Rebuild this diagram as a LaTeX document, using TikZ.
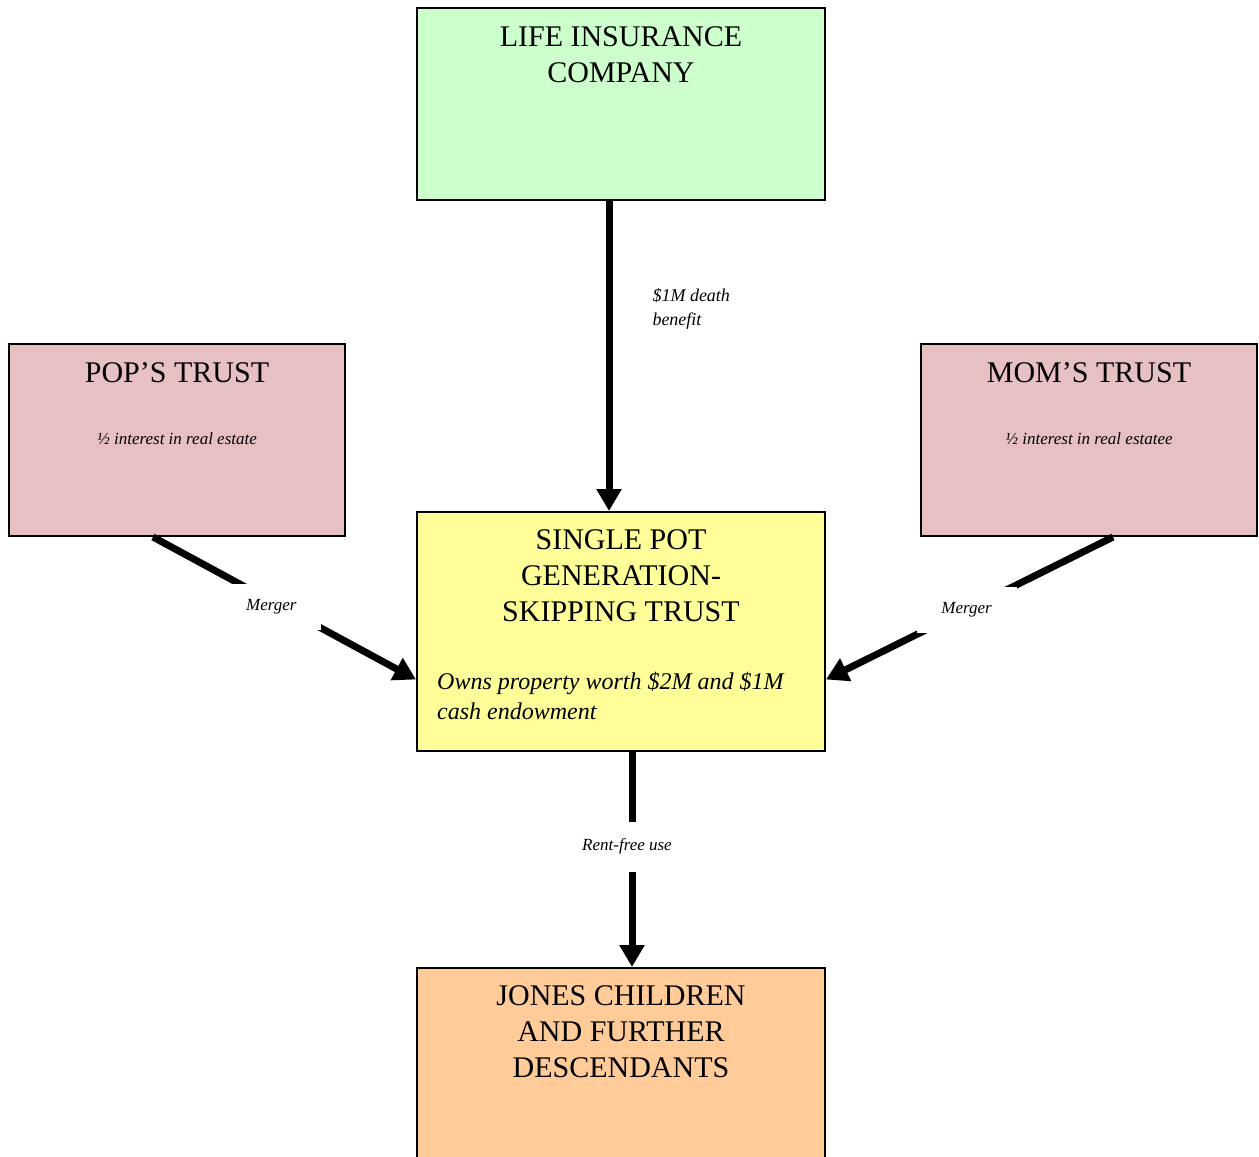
\documentclass[tikz,border=0pt]{standalone}
\usepackage{fontspec}
\setmainfont{Liberation Serif}
\usepackage{tikz}
\usetikzlibrary{arrows.meta}
\usetikzlibrary{positioning}
\definecolor{lifegreen}{HTML}{CCFFCC}
\definecolor{trustpink}{RGB}{231,192,196}
\definecolor{potyellow}{HTML}{FFFF99}
\definecolor{heirorange}{HTML}{FFCC99}
\tikzset{
  box/.style={draw, line width=2pt, rectangle, inner sep=0pt},
  title/.style={font=\fontsize{30}{36}\selectfont, align=center, inner sep=0pt},
  note/.style={font=\fontsize{17}{24}\selectfont\itshape, inner sep=0pt},
  flow/.style={line width=7pt},
  gap/.style={fill=white, font=\fontsize{17}{20}\selectfont\itshape, inner sep=0pt}
}

\begin{document}
\begin{tikzpicture}[x=1pt, y=-1pt,
      ->, >={Triangle[length=22pt,width=24pt]}]

    \useasboundingbox (0,0) rectangle (1259,1157);

    % boxes
    \node[box, fill=lifegreen, minimum width=408pt, minimum height=192pt]
      (life) at (621,104) {};
    \node[box, fill=trustpink, minimum width=336pt, minimum height=192pt]
      (pop) at (177,440) {};
    \node[box, fill=trustpink, minimum width=336pt, minimum height=192pt]
      (mom) at (1089,440) {};
    \node[box, fill=potyellow, minimum width=408pt, minimum height=239pt]
      (single) at (621,631.5) {};
    \node[box, fill=heirorange, minimum width=408pt, minimum height=240pt]
      (jones) at (621,1088) {};

    % texts
    \node[title] (lifetitle) [below=19pt of life.north]
      {LIFE INSURANCE\\COMPANY};
    \node[title] (poptitle) [below=19pt of pop.north] {POP’S TRUST};
    \node[title] (momtitle) [below=19pt of mom.north] {MOM’S TRUST};
    \node[note] (popnote) [below=89pt of pop.north]
      {½ interest in real estate};
    \node[note] (momnote) [below=89pt of mom.north]
      {½ interest in real estatee};
    \node[title] (singletitle) [below=18pt of single.north]
      {SINGLE POT\\GENERATION-\\SKIPPING TRUST};
    \node[note, font=\fontsize{24}{30}\selectfont\itshape, align=left, anchor=north west]
      (singlenote) at ([xshift=21pt, yshift=-161pt]single.north west)
      {Owns property worth \$2M and \$1M\\cash endowment};
    \node[title] (jonestitle) [below=18pt of jones.north]
      {JONES CHILDREN\\AND FURTHER\\DESCENDANTS};

    % connectors
    \draw[flow] ([xshift=-12pt]life.south) --
      node[note, pos=0.27, anchor=north west, align=left, xshift=40pt, font=\fontsize{18}{24}\selectfont\itshape]
        (benefit) {\$1M death\\benefit}
      ([xshift=-12pt]single.north);
    \draw[flow] ([xshift=-24pt]pop.south) --
      node[gap, pos=0.45, yshift=-6pt, minimum width=100pt, minimum height=46pt] (mergepop) {Merger}
      ([yshift=-48pt]single.west);
    \draw[flow] ([xshift=24pt]mom.south) --
      node[gap, pos=0.51, minimum width=100pt, minimum height=46pt] (mergemom) {Merger}
      ([yshift=-48pt]single.east);
    \draw[flow] ([xshift=11pt]single.south) --
      node[gap, pos=0.44, xshift=-5pt, minimum width=110pt, minimum height=50pt] (rentfree) {Rent-free use}
      ([xshift=11pt]jones.north);

  \end{tikzpicture}
\end{document}
